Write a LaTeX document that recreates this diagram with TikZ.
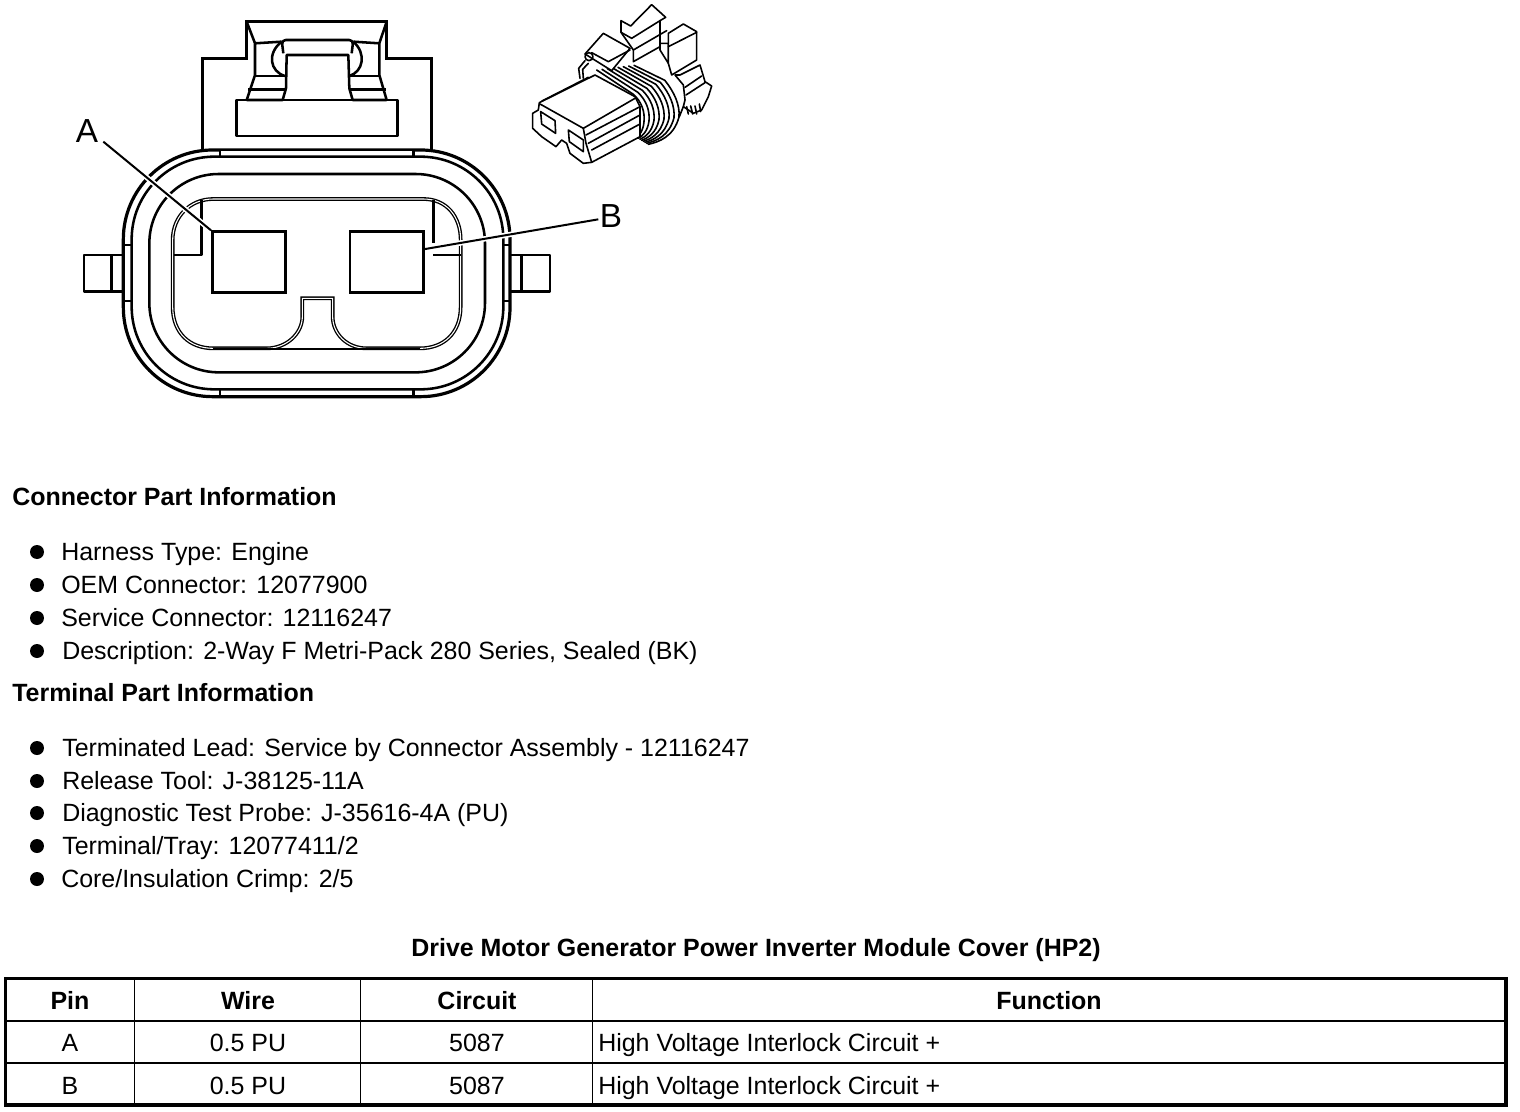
\documentclass[tikz,border=0pt]{standalone}
\usepackage{fontspec}
\setmainfont{Liberation Sans}
\tikzset{
  txt/.style={anchor=base west,inner sep=0pt,font=\fontsize{18.72}{20}\selectfont},
  hd/.style={anchor=base west,inner sep=0pt,font=\fontsize{18.72}{20}\selectfont\bfseries},
  ctr/.style={anchor=base,inner sep=0pt,font=\fontsize{18.72}{20}\selectfont},
  ctrb/.style={anchor=base,inner sep=0pt,font=\fontsize{18.72}{20}\selectfont\bfseries},
  bul/.style={circle,fill=black,inner sep=0pt,minimum size=10.5pt},
  callout/.style={inner sep=0pt,font=\fontsize{25}{27}\selectfont},
  heavy/.style={line width=2.6pt,line join=miter},
  mid/.style={line width=1.9pt,line join=round},
  thin2/.style={line width=1.3pt,line join=round},
  leader/.style={line width=1.5pt,preaction={draw=white,line width=4pt}},
  sketch/.style={line width=1.2pt,line join=round,line cap=round},
  pinbox/.style={draw,line width=1.9pt,inner sep=0pt,minimum width=55pt,minimum height=45.5pt,anchor=north west},
  tbl/.style={line width=1.3pt},
  tblb/.style={line width=2.4pt}
}
\begin{document}
\begin{tikzpicture}[x=.75pt,y=-.75pt]
\useasboundingbox (0,0) rectangle (1520,1112);
% ---- main connector, coordinates in 3x zoom units
\begin{scope}[shift={(70,0)},x=.25pt,y=-.25pt]
\draw[heavy] (398,450)--(398,175)--(530,175)--(530,65)--(950,65)--(950,175)--(1085,175)--(1085,450);
\draw[mid] (500,300) rectangle (982,408);
\draw[mid] (530,300)--(638,300)--(648,265)--(650,165)--(835,165)--(838,265)--(848,300)--(950,300);
\draw[mid,rounded corners=3pt] (640,160)--(635,120)--(850,120)--(845,160);
\draw[mid] (530,65)--(555,130)--(555,225)--(530,300);
\draw[mid] (950,65)--(928,130)--(928,225)--(950,300);
\draw[mid] (555,130)--(635,125) (850,125)--(928,130);
\draw[mid] (635,125) .. controls (590,160) and (600,215) .. (645,228);
\draw[mid] (850,125) .. controls (890,160) and (880,215) .. (838,228);
\draw[mid] (555,228)--(645,228) (838,228)--(928,228);
\draw[mid] (535,268)--(645,268) (838,268)--(948,268);
% rings
\draw[line width=2.4pt,rounded corners=67pt] (160,450) rectangle (1320,1190);
\fill[white] (450,453) rectangle (1030,468);
\draw[mid] (450,450)--(1030,450) (450,450)--(450,470) (1030,450)--(1030,470);
\fill[white] (450,1172) rectangle (1030,1188);
\draw[mid] (450,1190)--(1030,1190) (450,1168)--(450,1190) (1030,1168)--(1030,1190);
\draw[mid,rounded corners=62pt] (185,470) rectangle (1300,1168);
\draw[mid,rounded corners=52pt] (238,522) rectangle (1245,1117);
% inner double outline
\draw[line width=1pt,double,double distance=.8pt,rounded corners=0pt]
  (430,597)--(1060,597) .. controls (1130,597) and (1172,650) .. (1172,720)--(1172,920)
  .. controls (1172,1000) and (1120,1045) .. (1050,1045)--(890,1045)
  .. controls (830,1045) and (788,1000) .. (788,950)--(788,895)--(697,895)--(697,950)
  .. controls (697,1000) and (650,1045) .. (590,1045)--(430,1045)
  .. controls (360,1045) and (308,1000) .. (308,920)--(308,720)
  .. controls (308,650) and (360,597) .. (430,597)--cycle;
\draw[mid] (430,1047)--(1050,1047);
\draw[mid] (395,600)--(395,765)--(312,765);
\draw[mid] (1090,600)--(1090,730) (1090,765)--(1172,765);
% side tabs
\draw[mid,line width=2.2pt] (160,765)--(42,765)--(42,875)--(160,875) (125,765)--(125,875);
\draw[mid,line width=2.2pt] (1320,765)--(1440,765)--(1440,875)--(1320,875) (1355,765)--(1355,875);
\draw[thin2] (160,735)--(185,735) (160,902)--(185,902) (1300,735)--(1320,735) (1300,902)--(1320,902);
% pins and leaders
\node[pinbox] (pinA) at (423,691) {};
\node[pinbox] (pinB) at (836,691) {};
\coordinate (endA) at (100,425);
\coordinate (endB) at (1585,658);
\coordinate (startB) at (1060,748);
\draw[leader] (endA)--(pinA.north west);
\draw[leader] (startB)--(endB);
\node[pinbox] (pinAtop) at (423,691) {};
\node[pinbox] (pinBtop) at (836,691) {};
\end{scope}
\node[callout] (labA) at (87,131) {A};
\node[callout] (labB) at (611,216) {B};
% ---- small perspective view, zoom units
\begin{scope}[shift={(520,0)},x=.25pt,y=-.25pt,sketch]
% back strain relief
\draw[fill=white] (465,225)--(490,255)--(495,300)--(490,320)--(520,340)--(545,330)--(565,290)--(575,258)--(555,245)--(540,195)--(480,225)--cycle;
\draw (498,285)--(555,248) (495,262)--(545,228);
\draw (500,320)--(505,342) (512,318)--(518,342) (525,318)--(530,342) (538,312)--(542,335);
\draw (490,320)--(478,350);
% left ring ends
\draw (180,235)--(176,205)--(195,182);
\draw (190,235)--(188,208)--(205,190);
% seal rings
\foreach \i in {0,...,7} {
  \draw (230+16*\i,210-2*\i)--(340+13.5*\i,283-6*\i)
    .. controls (365+14*\i,305-4*\i) and (375+15*\i,335-3*\i) .. (372+15*\i,365-2*\i)
    .. controls (370+13*\i,390+3*\i) and (360+8*\i,405+3*\i) .. (350+5*\i,412+3*\i);
}
% front body
\draw[fill=white] (38,340)--(38,385)--(65,410)--(108,440)--(125,420)--(140,430)--(150,460)--(190,490)--(215,487)--(360,410)--(360,320)--(345,290)--(225,225)--(58,308)--(55,330)--cycle;
\draw (60,312)--(190,385)--(345,295);
\draw (66,303)--(205,232);
\draw (190,385)--(198,430)--(215,487);
\draw (62,335)--(105,362)--(107,400)--(65,372)--cycle;
\draw (145,390)--(190,420)--(190,455)--(148,425)--cycle;
\draw (198,405)--(360,320);
\draw (205,430)--(360,345);
\draw (215,450)--(360,372);
% latch
\draw[fill=white] (303,97)--(303,62)--(332,78)--(395,14)--(437,52)--(420,62)--(420,140)--(340,185)--(340,150)--cycle;
\draw (303,97)--(335,115)--(420,62);
\draw (340,150)--(440,92);
\draw[fill=white] (195,162)--(250,100)--(330,145)--(275,212)--cycle;
\draw (215,158)--(265,185)--(330,150);
\draw (207,170) circle (3pt);
\draw[fill=white] (420,130)--(420,150)--(445,190)--(445,130)--cycle;
\draw[fill=white] (445,140)--(445,100)--(490,72)--(530,95)--(530,180)--(455,225)--(445,190)--cycle;
\draw (445,140)--(530,97);
\end{scope}
% ---- text
\node[hd] (h1) at (12,505) {Connector Part Information};
\foreach \n/\y/\x/\t in {a/552/61/{Harness Type: Engine},b/585/61/{OEM Connector: 12077900},c/618/61/{Service Connector: 12116247},d/651/62/{Description: 2-Way F Metri-Pack 280 Series, Sealed (BK)}} {
  \node[bul] (b\n) at (37,\y) {};
  \node[txt] (t\n) at (\x,\y+8) {\t};
}
\node[hd] (h2) at (12,701) {Terminal Part Information};
\foreach \n/\y/\x/\t in {e/748/62/{Terminated Lead: Service by Connector Assembly - 12116247},f/781/62/{Release Tool: J-38125-11A},g/813/62/{Diagnostic Test Probe: J-35616-4A (PU)},h/846/62/{Terminal/Tray: 12077411/2},i/879/61/{Core/Insulation Crimp: 2/5}} {
  \node[bul] (b\n) at (37,\y) {};
  \node[txt] (t\n) at (\x,\y+8) {\t};
}
\node[ctrb] (title) at (756,956) {Drive Motor Generator Power Inverter Module Cover (HP2)};
% ---- table
\draw[tblb] (5.5,978.5) rectangle (1506,1105);
\draw[tbl] (6,1021)--(1506,1021) (6,1063)--(1506,1063);
\draw[tbl] (134.5,978)--(134.5,1105) (360.5,978)--(360.5,1105) (592.5,978)--(592.5,1105);
\node[ctrb] (c1) at (70,1009) {Pin};
\node[ctrb] (c2) at (248,1009) {Wire};
\node[ctrb] (c3) at (477,1009) {Circuit};
\node[ctrb] (c4) at (1049,1009) {Function};
\node[ctr] (a1) at (70,1051) {A};
\node[ctr] (a2) at (248,1051) {0.5 PU};
\node[ctr] (a3) at (477,1051) {5087};
\node[txt] (a4) at (598,1051) {High Voltage Interlock Circuit +};
\node[ctr] (b1) at (70,1094) {B};
\node[ctr] (b2) at (248,1094) {0.5 PU};
\node[ctr] (b3) at (477,1094) {5087};
\node[txt] (b4) at (598,1094) {High Voltage Interlock Circuit +};
\end{tikzpicture}
\end{document}
